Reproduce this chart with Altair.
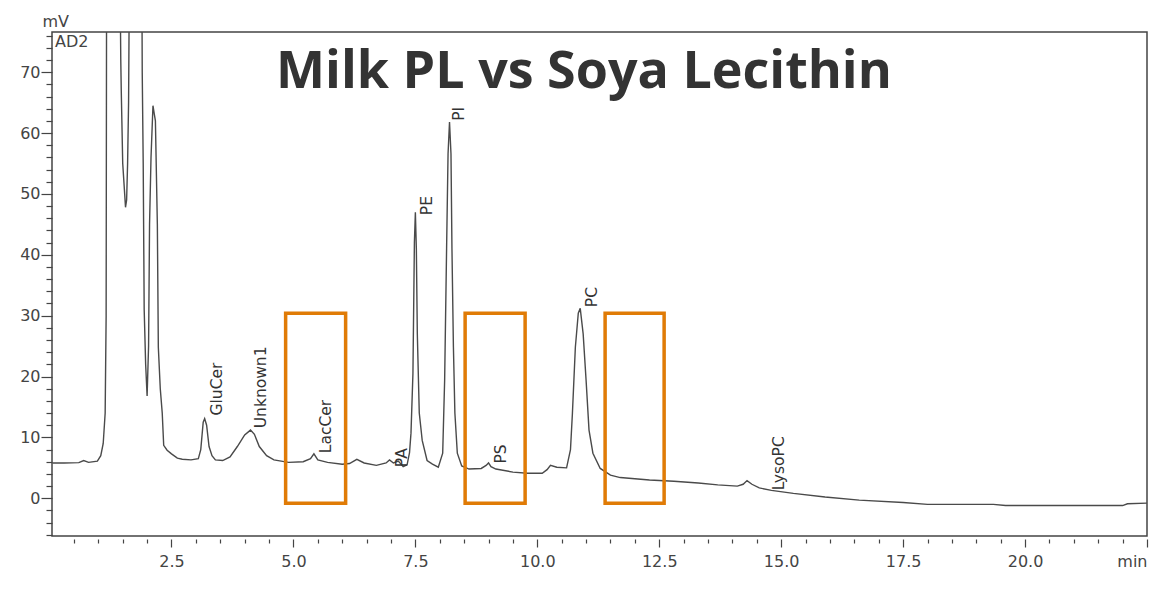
import altair as alt
import pandas as pd

# ---- trace (retention time in min, signal in mV) ----
t_min = [0.06, 0.3, 0.6, 0.7, 0.8, 0.98, 1.05, 1.1, 1.14, 1.16, 1.17, 1.3, 1.44, 1.46, 1.47, 1.5, 1.54, 1.557,
         1.58, 1.6, 1.62, 1.64, 1.75, 1.89, 1.9, 1.92, 1.94, 1.97, 2.0, 2.03, 2.05, 2.08, 2.12, 2.15, 2.17, 2.21,
         2.23, 2.27, 2.31, 2.34, 2.41, 2.5, 2.62, 2.72, 2.9, 3.05, 3.1, 3.15, 3.18, 3.22, 3.27, 3.33, 3.4, 3.55,
         3.7, 3.85, 4.0, 4.12, 4.2, 4.3, 4.45, 4.6, 4.9, 5.2, 5.35, 5.42, 5.5, 5.7, 6.0, 6.15, 6.3, 6.45, 6.7,
         6.9, 6.97, 7.05, 7.15, 7.25, 7.33, 7.38, 7.41, 7.45, 7.48, 7.5, 7.52, 7.54, 7.58, 7.64, 7.74, 7.85,
         7.97, 8.06, 8.1, 8.14, 8.17, 8.2, 8.23, 8.25, 8.28, 8.31, 8.36, 8.45, 8.6, 8.85, 8.95, 9.0, 9.05, 9.15,
         9.5, 9.8, 10.1, 10.2, 10.27, 10.4, 10.6, 10.68, 10.72, 10.78, 10.84, 10.88, 10.94, 11.0, 11.06, 11.14,
         11.29, 11.5, 11.7, 12.3, 12.8, 13.3, 13.7, 14.1, 14.22, 14.3, 14.4, 14.55, 14.8, 15.25, 15.9, 16.6,
         17.5, 18.0, 19.35, 19.6, 22.0, 22.1, 22.5]
signal_mv = [5.8, 5.8, 5.85, 6.2, 5.9, 6.1, 7.0, 9.0, 14, 30, 90, 95, 90, 72, 67, 55, 50, 47.8,
             49, 55, 65, 90, 95, 90, 70, 55, 31, 22, 16.8, 25, 45, 56, 64.5, 63, 62, 45,
             24.8, 18, 14, 8.7, 7.9, 7.3, 6.6, 6.4, 6.3, 6.5, 8.0, 12.5, 13.1, 12.0, 8.5, 7.0, 6.3, 6.2,
             6.8, 8.5, 10.4, 11.2, 10.5, 8.5, 7.0, 6.3, 5.9, 6.0, 6.5, 7.3, 6.3, 5.9, 5.6, 5.7, 6.4, 5.8, 5.4,
             5.8, 6.3, 5.8, 6.1, 5.2, 5.5, 7.5, 10.7, 20.5, 42, 47, 41, 27, 14, 9.5, 6.2, 5.6,
             5.1, 7.4, 19.4, 41, 56.6, 61.8, 56.6, 41, 24.8, 14, 7.4, 5.3, 4.8, 4.9, 5.4, 5.8, 5.2, 4.8,
             4.3, 4.1, 4.1, 4.7, 5.4, 5.1, 5.0, 8.0, 14, 24.8, 30.4, 31.2, 27, 19.4, 11.2, 7.4,
             4.9, 3.8, 3.4, 3.0, 2.8, 2.5, 2.2, 2.0, 2.3, 2.9, 2.3, 1.7, 1.3, 0.8, 0.2, -0.3,
             -0.7, -1.0, -1.0, -1.2, -1.2, -0.9, -0.8]

# ---- peak labels ----
peak_names = ["GluCer", "Unknown1", "LacCer", "PA", "PE", "PI", "PS", "PC", "LysoPC"]
peak_t = [3.44, 4.33, 5.66, 7.23, 7.73, 8.40, 9.25, 11.12, 14.96]
peak_v = [13.6, 11.5, 7.4, 5.1, 46.5, 62.0, 5.7, 31.4, 1.3]

# ---- highlighted regions ----
box_t0 = [4.84, 8.52, 11.39]
box_t1 = [6.07, 9.75, 12.60]
box_v0 = [-0.8, -0.8, -0.8]
box_v1 = [30.4, 30.4, 30.4]

TITLE = "Milk PL vs Soya Lecithin"
CHANNEL = "AD2"

X_DOMAIN = [0.05, 22.5]
Y_DOMAIN = [-6.2, 76.6]
x_ticks = [0.5 * i for i in range(1, 46)]
y_ticks = list(range(-6, 77, 2))

trace = pd.DataFrame({"t": t_min, "v": signal_mv})
labels = pd.DataFrame({"name": peak_names, "t": peak_t, "v": peak_v})
boxes = pd.DataFrame({"t": box_t0, "t1": box_t1, "v": box_v0, "v1": box_v1})

FONT = "DejaVu Sans"
x_scale = alt.Scale(domain=X_DOMAIN, nice=False, zero=False)
y_scale = alt.Scale(domain=Y_DOMAIN, nice=False, zero=False)

x_axis = alt.Axis(
    values=x_ticks, domain=False, grid=False, offset=3,
    tickSize={"condition": {"test": "datum.value % 2.5 === 0", "value": 8}, "value": 4},
    tickColor="#444", tickWidth=1.2,
    labelExpr="datum.value % 2.5 === 0 ? (datum.value === 22.5 ? 'min' : format(datum.value, '.1f')) : ''",
    labelOverlap=False, labelFlush=True, labelFont=FONT, labelFontSize=16, labelColor="#444",
    labelPadding=6, title=None,
)
y_axis = alt.Axis(
    values=y_ticks, domain=False, grid=False,
    tickSize={"condition": {"test": "datum.value % 10 === 0", "value": 11}, "value": 6},
    tickColor="#444", tickWidth=1.2,
    labelExpr="datum.value % 10 === 0 ? format(datum.value, 'd') : ''",
    labelOverlap=False, labelFont=FONT, labelFontSize=16, labelColor="#444", labelPadding=1,
    title="mV", titleAngle=0, titleAlign="left", titleBaseline="alphabetic",
    titleX=-10, titleY=-6, titleFont=FONT, titleFontSize=16, titleFontWeight="normal", titleColor="#444",
)

X = alt.X("t:Q", scale=x_scale, axis=x_axis)
Y = alt.Y("v:Q", scale=y_scale, axis=y_axis)

line = alt.Chart(trace).mark_line(color="#4a4a4a", strokeWidth=1.4, clip=True).encode(x=X, y=Y)

text = alt.Chart(labels).mark_text(
    angle=270, align="left", baseline="middle", font=FONT, fontSize=15.5, color="#333"
).encode(x=X, y=Y, text="name:N")

rects = alt.Chart(boxes).mark_rect(
    fill=None, filled=False, stroke="#e07b06", strokeWidth=3.5
).encode(x=X, x2="t1:Q", y=Y, y2="v1:Q")

channel = alt.Chart(pd.DataFrame({"c": [CHANNEL]})).mark_text(
    align="left", baseline="top", font=FONT, fontSize=16, color="#444"
).encode(x=alt.value(3), y=alt.value(2), text="c:N")

title = alt.Chart(pd.DataFrame({"c": [TITLE]})).mark_text(
    align="center", baseline="alphabetic", font="Open Sans", fontSize=52, fontWeight="bold", color="#333"
).encode(x=alt.value(532), y=alt.value(56), text="c:N")

chart = alt.layer(line, text, rects, channel, title).properties(
    width=1095, height=504,
    padding={"left": 44, "top": 24, "right": 8, "bottom": 48},
    autosize=alt.AutoSizeParams(type="none"),
    background="white",
).configure_view(stroke="#444", strokeWidth=1.5)

chart.save("out.html", embed_options={"renderer": "svg", "actions": False})
